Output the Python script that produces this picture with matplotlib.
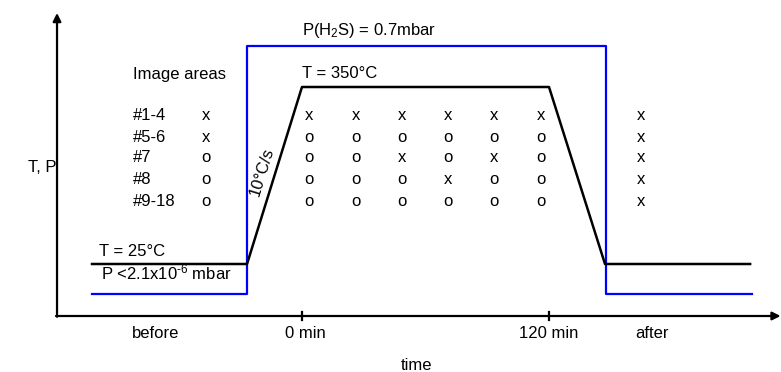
import numpy as np
import matplotlib.pyplot as plt

plt.rcParams['font.family'] = ['Liberation Sans', 'DejaVu Sans']
plt.rcParams['mathtext.fontset'] = 'custom'
plt.rcParams['mathtext.rm'] = 'Liberation Sans'
plt.rcParams['mathtext.it'] = 'Liberation Sans'
plt.rcParams['mathtext.default'] = 'regular'

# schematic time axis (minutes) and arbitrary T/P level units
temp_time = [-102, -26.7, 0, 120, 147.2, 217.7]
temp_level = [52, 52, 229, 229, 52, 52]
pres_time = [-102, -26.7, -26.7, 147.7, 147.7, 218.6]
pres_level = [22, 22, 270, 270, 22, 22]

tick_pos = [0, 120]
xlabels = ["before", "0 min", "120 min", "after"]
xlabel_pos = [-70.9, 1.5, 120, 170]

rows = ["#1-4", "#5-6", "#7", "#8", "#9-18"]
row_level = [200, 179, 158, 136, 115]
col_time = [-46.8, 3.4, 26.1, 48.4, 70.8, 93.4, 116.1, 164.7]
marks = [
    "x x x x x x x x",
    "x o o o o o o x",
    "o o o x o x o x",
    "o o o o x o o x",
    "o o o o o o o x",
]

fig = plt.figure(figsize=(7.81, 3.72), dpi=100)
ax = fig.add_axes([0, 0, 1, 1])
ax.set_xlim(-146.7, 232.7)
ax.set_ylim(-56, 316)
ax.axis("off")

fs = 12

# axes arrows
arrow = dict(arrowstyle="-|>", color="black", lw=1.6,
             mutation_scale=12, shrinkA=0, shrinkB=0)
ax.annotate("", xy=(232.5, 0), xytext=(-119.5, 0), arrowprops=arrow,
            annotation_clip=False)
ax.annotate("", xy=(-119, 303), xytext=(-119, -0.8), arrowprops=arrow,
            annotation_clip=False)
for t in tick_pos:
    ax.plot([t, t], [-4, 4.5], color="black", lw=1.6)

# profiles
ax.plot(pres_time, pres_level, color="#0000ff", lw=1.6)
ax.plot(temp_time, temp_level, color="black", lw=1.8)

# x tick labels
for lab, x in zip(xlabels, xlabel_pos):
    ax.text(x, -18, lab, ha="center", va="center", fontsize=fs)
ax.text(55.4, -49, "time", ha="center", va="center", fontsize=fs)
ax.text(-126.3, 149, "T, P", ha="center", va="center", fontsize=fs)

# annotations
ax.text(0, 285, "P(H$_2$S) = 0.7mbar", ha="left", va="center", fontsize=fs)
ax.text(0, 242, "T = 350°C", ha="left", va="center", fontsize=fs)
ax.text(-82.1, 242, "Image areas", ha="left", va="center", fontsize=fs)
ax.text(-98.6, 64, "T = 25°C", ha="left", va="center", fontsize=fs)
ax.text(-97.7, 44, r"P <2.1x10$^{\text{-}6}$ mbar", ha="left", va="center",
        fontsize=fs)
ax.text(-19.4, 144, "10°C/s", ha="center", va="center", fontsize=fs,
        rotation=72.7, rotation_mode="anchor")

# image-area table
for lab, lev, row in zip(rows, row_level, marks):
    ax.text(-82.1, lev, lab, ha="left", va="center", fontsize=fs)
    for t, m in zip(col_time, row.split()):
        ax.text(t, lev, m, ha="center", va="center", fontsize=fs)

fig.savefig("out.png", dpi=100)
